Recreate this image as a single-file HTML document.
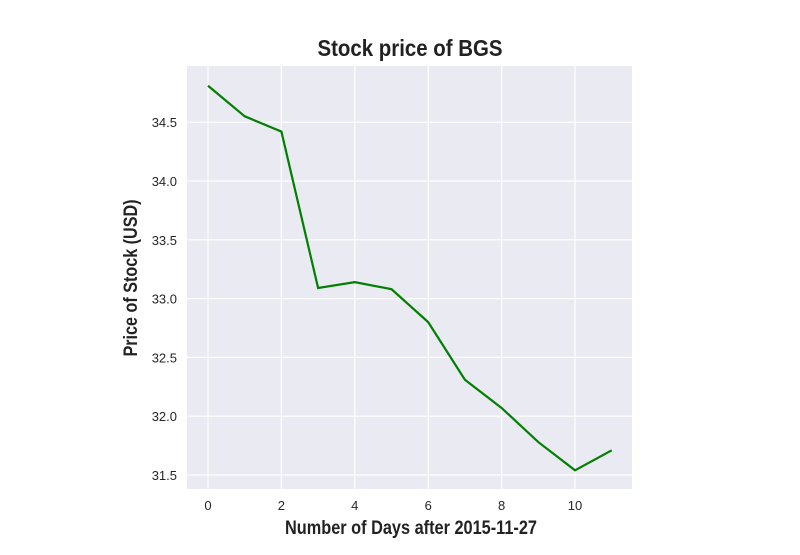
<!DOCTYPE html>
<html><head><meta charset="utf-8"><style>
body{margin:0;background:#fff;}
svg text{font-family:"Liberation Sans",sans-serif;}
.t{font-family:"Liberation Sans Narrow","Liberation Sans",sans-serif;font-weight:bold;fill:#222;}
</style></head><body>
<svg id="chart" width="800" height="550" xmlns="http://www.w3.org/2000/svg">
<rect x="187" y="66" width="445" height="423" fill="#eaeaf2"/>
<g id="grid"></g>
<g id="ticks"></g>
<polyline id="line" fill="none" stroke="#008000" stroke-width="2.2"/>
<text class="t" x="410" y="56" text-anchor="middle" font-size="23" textLength="185" lengthAdjust="spacingAndGlyphs">Stock price of BGS</text>
<text class="t" x="411" y="534" text-anchor="middle" font-size="19" textLength="252" lengthAdjust="spacingAndGlyphs">Number of Days after 2015-11-27</text>
<text class="t" x="0" y="0" transform="translate(137,278) rotate(-90)" text-anchor="middle" font-size="19" textLength="157" lengthAdjust="spacingAndGlyphs">Price of Stock (USD)</text>
</svg>
<script>
const days=[0,1,2,3,4,5,6,7,8,9,10,11];
const prices=[34.81,34.55,34.42,33.09,33.14,33.08,32.80,32.31,32.07,31.78,31.54,31.71];
const xTicks=[0,2,4,6,8,10];
const yTicks=[31.5,32.0,32.5,33.0,33.5,34.0,34.5];
const NS="http://www.w3.org/2000/svg";
const xs=v=>208+v*36.7;
const ys=v=>475-(v-31.5)*117.6;
const grid=document.getElementById('grid'),tk=document.getElementById('ticks');
xTicks.forEach(t=>{
 const l=document.createElementNS(NS,'line');
 l.setAttribute('x1',xs(t));l.setAttribute('x2',xs(t));l.setAttribute('y1',66);l.setAttribute('y2',489);
 l.setAttribute('stroke','#fff');l.setAttribute('stroke-width','1.2');
 
 
 grid.appendChild(l);
 const tx=document.createElementNS(NS,'text');
 tx.setAttribute('x',xs(t));tx.setAttribute('y',510);tx.setAttribute('text-anchor','middle');
 tx.setAttribute('font-size','13');tx.setAttribute('fill','#262626');tx.textContent=t;
 
 
 tk.appendChild(tx);
});
yTicks.forEach(t=>{
 const l=document.createElementNS(NS,'line');
 l.setAttribute('x1',187);l.setAttribute('x2',632);l.setAttribute('y1',ys(t));l.setAttribute('y2',ys(t));
 l.setAttribute('stroke','#fff');l.setAttribute('stroke-width','1.2');
 
 
 grid.appendChild(l);
 const tx=document.createElementNS(NS,'text');
 tx.setAttribute('x',177);tx.setAttribute('y',ys(t)+5);tx.setAttribute('text-anchor','end');
 tx.setAttribute('font-size','13');tx.setAttribute('fill','#262626');tx.textContent=t.toFixed(1);
 
 
 tk.appendChild(tx);
});
document.getElementById('line').setAttribute('points',days.map((d,i)=>xs(d)+','+ys(prices[i])).join(' '));
</script>
</body></html>
